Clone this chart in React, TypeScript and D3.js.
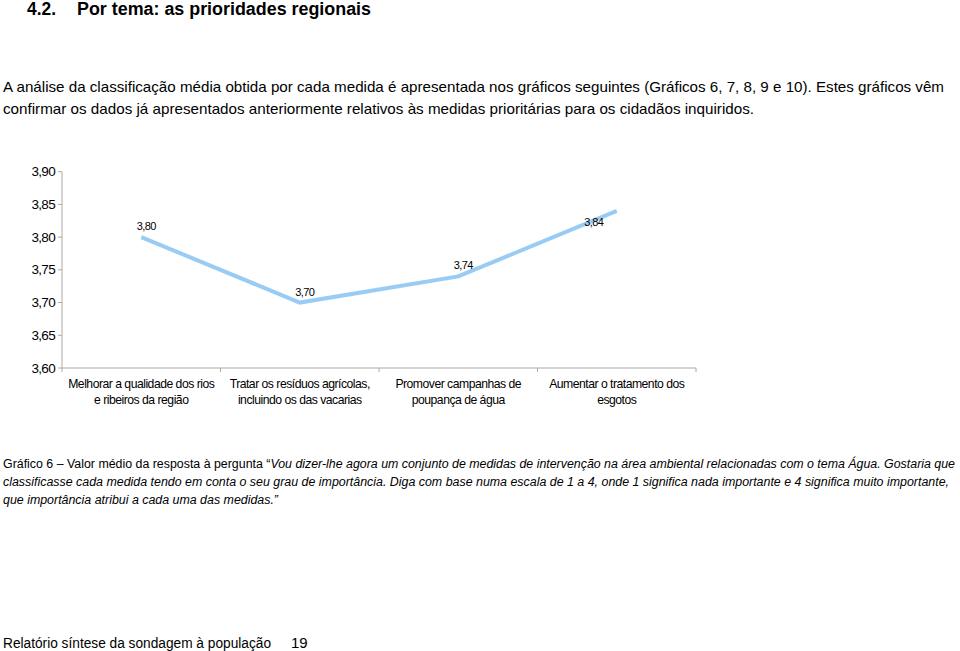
import React from "react";
import * as d3 from "d3";

const categories = [
  ["Melhorar a qualidade dos rios", "e ribeiros da região"],
  ["Tratar os resíduos agrícolas,", "incluindo os das vacarias"],
  ["Promover campanhas de", "poupança de água"],
  ["Aumentar o tratamento dos", "esgotos"],
];
const values = [3.8, 3.7, 3.74, 3.84];
const yTicks = [3.6, 3.65, 3.7, 3.75, 3.8, 3.85, 3.9];

const fmt = (v: number) => v.toFixed(2).replace(".", ",");

export default function App() {
  const W = 960, H = 651;
  const x = d3.scaleBand<number>().domain(values.map((_, i) => i)).range([62, 696]);
  const y = d3.scaleLinear().domain([3.6, 3.9]).range([368, 171.7]);
  const line = d3
    .line<number>()
    .x((_, i) => (x(i) as number) + x.bandwidth() / 2)
    .y((d) => y(d));
  const boundaries = [...values.map((_, i) => x(i) as number), 696];
  const sans = "'Liberation Sans', Arial, sans-serif";

  return (
    <svg
      width={W}
      height={H}
      viewBox={`0 0 ${W} ${H}`}
      style={{ position: "absolute", left: 0, top: 0, background: "#fff", display: "block" }}
      fontFamily={sans}
    >
      <rect width={W} height={H} fill="#fff" />
      {/* Title */}
      <text x={27} y={15} fontSize={17.5} fontWeight="bold" fill="#000" textLength={29} lengthAdjust="spacingAndGlyphs">4.2.</text>
      <text x={77} y={15} fontSize={17.5} fontWeight="bold" fill="#000" textLength={294} lengthAdjust="spacingAndGlyphs">
        Por tema: as prioridades regionais
      </text>

      {/* Paragraph */}
      <text x={3} y={92} fontSize={15} fill="#000" textLength={941} lengthAdjust="spacingAndGlyphs">
        A análise da classificação média obtida por cada medida é apresentada nos gráficos seguintes (Gráficos 6, 7, 8, 9 e 10). Estes gráficos vêm
      </text>
      <text x={3} y={114} fontSize={15} fill="#000" textLength={751} lengthAdjust="spacingAndGlyphs">
        confirmar os dados já apresentados anteriormente relativos às medidas prioritárias para os cidadãos inquiridos.
      </text>

      {/* Y axis */}
      <line x1={62} x2={62} y1={y(3.9)} y2={y(3.6)} stroke="#aaa" strokeWidth={1} />
      {yTicks.map((t) => (
        <g key={t}>
          <line x1={58} x2={62} y1={y(t)} y2={y(t)} stroke="#aaa" />
          <text x={55} y={y(t) + 4.5} fontSize={13.5} textAnchor="end" fill="#000" letterSpacing={-0.7}>
            {fmt(t)}
          </text>
        </g>
      ))}

      {/* X axis */}
      <line x1={62} x2={696} y1={y(3.6)} y2={y(3.6)} stroke="#aaa" />
      {boundaries.map((b, i) => (
        <line key={i} x1={b} x2={b} y1={y(3.6)} y2={y(3.6) + 4} stroke="#aaa" />
      ))}
      {categories.map((c, i) => (
        <text key={i} x={(x(i) as number) + x.bandwidth() / 2} textAnchor="middle" fontSize={12.2} fill="#000" letterSpacing={-0.5}>
          <tspan x={(x(i) as number) + x.bandwidth() / 2} y={388}>{c[0]}</tspan>
          <tspan x={(x(i) as number) + x.bandwidth() / 2} y={404}>{c[1]}</tspan>
        </text>
      ))}

      {/* Line */}
      <path d={line(values) || ""} fill="none" stroke="#99CCF5" strokeWidth={4} />
      {values.map((v, i) => {
        const cx = (x(i) as number) + x.bandwidth() / 2;
        const last = i === values.length - 1;
        return (
          <text
            key={i}
            x={last ? cx - 23 : cx + 5}
            y={last ? y(v) + 15 : y(v) - 7}
            textAnchor="middle"
            fontSize={11}
            fill="#000"
            letterSpacing={-0.6}
          >
            {fmt(v)}
          </text>
        );
      })}

      {/* Caption */}
      <text x={3} y={468} fontSize={12.3} fill="#000" textLength={952} lengthAdjust="spacingAndGlyphs">
        Gráfico 6 – Valor médio da resposta à pergunta “<tspan fontStyle="italic">Vou dizer-lhe agora um conjunto de medidas de intervenção na área ambiental relacionadas com o tema Água. Gostaria que</tspan>
      </text>
      <text x={3} y={486} fontSize={12.3} fill="#000" fontStyle="italic" textLength={946} lengthAdjust="spacingAndGlyphs">
        classificasse cada medida tendo em conta o seu grau de importância. Diga com base numa escala de 1 a 4, onde 1 significa nada importante e 4 significa muito importante,
      </text>
      <text x={3} y={504} fontSize={12.3} fill="#000" fontStyle="italic" textLength={275} lengthAdjust="spacingAndGlyphs">
        que importância atribui a cada uma das medidas.”
      </text>

      {/* Footer */}
      <text x={3} y={648} fontSize={14} fill="#000" textLength={268} lengthAdjust="spacingAndGlyphs">Relatório síntese da sondagem à população</text>
      <text x={291} y={648} fontSize={15} fill="#000">19</text>
    </svg>
  );
}
